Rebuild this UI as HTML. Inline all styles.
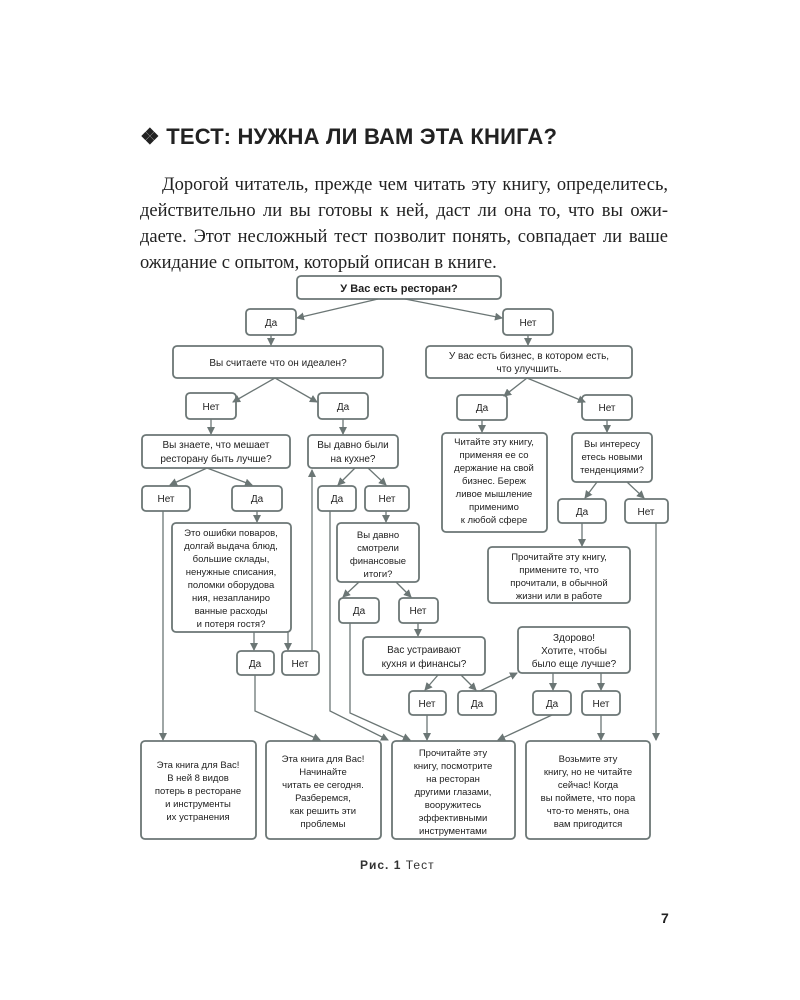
<!DOCTYPE html>
<html><head><meta charset="utf-8"><style>
body{margin:0;background:#fff;width:800px;height:1000px;position:relative;overflow:hidden;font-family:"Liberation Sans",sans-serif}
h1{position:absolute;left:140px;top:124px;margin:0;font-size:22px;font-weight:bold;color:#222;letter-spacing:0.2px}
.p{position:absolute;left:140px;top:172px;width:528px;margin:0;font-family:"Liberation Serif",serif;font-size:18.5px;line-height:26px;color:#222}
.p div{text-align:justify;text-align-last:justify;white-space:nowrap}
.p div.l{text-align-last:left}
svg{position:absolute;left:0;top:0}
.cap{position:absolute;left:360px;top:858px;font-size:12px;font-weight:bold;color:#333;letter-spacing:1px}
.pn{position:absolute;left:661px;top:910px;font-size:14px;font-weight:bold;color:#222}
</style></head><body>
<h1>❖ ТЕСТ: НУЖНА ЛИ ВАМ ЭТА КНИГА?</h1>
<div class="p">
<div style="padding-left:22px">Дорогой читатель, прежде чем читать эту книгу, определитесь,</div>
<div>действительно ли вы готовы к ней, даст ли она то, что вы ожи-</div>
<div>даете. Этот несложный тест позволит понять, совпадает ли ваше</div>
<div class="l">ожидание с опытом, который описан в книге.</div>
</div>
<svg width="800" height="1000" font-family="Liberation Sans, sans-serif" font-size="10" fill="#222">
<defs><marker id="a" markerWidth="8" markerHeight="8" refX="7" refY="4" orient="auto" markerUnits="userSpaceOnUse"><path d="M0,0 L8,4 L0,8 z" fill="#6b7675"/></marker></defs>
<g fill="none" stroke="#6b7675" stroke-width="1.8">
<rect x="297" y="276" width="204" height="23" rx="4"/>
<rect x="246" y="309" width="50" height="26" rx="4"/>
<rect x="503" y="309" width="50" height="26" rx="4"/>
<rect x="173" y="346" width="210" height="32" rx="4"/>
<rect x="426" y="346" width="206" height="32" rx="4"/>
<rect x="186" y="393" width="50" height="26" rx="4"/>
<rect x="318" y="393" width="50" height="26" rx="4"/>
<rect x="457" y="395" width="50" height="25" rx="4"/>
<rect x="582" y="395" width="50" height="25" rx="4"/>
<rect x="142" y="435" width="148" height="33" rx="4"/>
<rect x="308" y="435" width="90" height="33" rx="4"/>
<rect x="442" y="433" width="105" height="99" rx="4"/>
<rect x="572" y="433" width="80" height="49" rx="4"/>
<rect x="142" y="486" width="48" height="25" rx="4"/>
<rect x="232" y="486" width="50" height="25" rx="4"/>
<rect x="318" y="486" width="38" height="25" rx="4"/>
<rect x="365" y="486" width="44" height="25" rx="4"/>
<rect x="558" y="499" width="48" height="24" rx="4"/>
<rect x="625" y="499" width="43" height="24" rx="4"/>
<rect x="172" y="523" width="119" height="109" rx="4"/>
<rect x="337" y="523" width="82" height="59" rx="4"/>
<rect x="488" y="547" width="142" height="56" rx="4"/>
<rect x="339" y="598" width="40" height="25" rx="4"/>
<rect x="399" y="598" width="39" height="25" rx="4"/>
<rect x="363" y="637" width="122" height="38" rx="4"/>
<rect x="518" y="627" width="112" height="46" rx="4"/>
<rect x="237" y="651" width="37" height="24" rx="4"/>
<rect x="282" y="651" width="37" height="24" rx="4"/>
<rect x="409" y="691" width="37" height="24" rx="4"/>
<rect x="458" y="691" width="38" height="24" rx="4"/>
<rect x="533" y="691" width="38" height="24" rx="4"/>
<rect x="582" y="691" width="38" height="24" rx="4"/>
<rect x="141" y="741" width="115" height="98" rx="4"/>
<rect x="266" y="741" width="115" height="98" rx="4"/>
<rect x="392" y="741" width="123" height="98" rx="4"/>
<rect x="526" y="741" width="124" height="98" rx="4"/>
</g>
<g fill="none" stroke="#6b7675" stroke-width="1.3" marker-end="url(#a)">
<line x1="378" y1="299" x2="297" y2="318"/>
<line x1="405" y1="299" x2="502" y2="318"/>
<line x1="271" y1="335" x2="271" y2="345"/>
<line x1="528" y1="335" x2="528" y2="345"/>
<line x1="275" y1="378" x2="233" y2="402"/>
<line x1="275" y1="378" x2="317" y2="402"/>
<line x1="211" y1="419" x2="211" y2="434"/>
<line x1="343" y1="419" x2="343" y2="434"/>
<line x1="527" y1="378" x2="504" y2="396"/>
<line x1="527" y1="378" x2="585" y2="402"/>
<line x1="482" y1="420" x2="482" y2="432"/>
<line x1="607" y1="420" x2="607" y2="432"/>
<line x1="207" y1="468" x2="170" y2="485"/>
<line x1="207" y1="468" x2="252" y2="485"/>
<line x1="355" y1="468" x2="338" y2="485"/>
<line x1="368" y1="468" x2="386" y2="485"/>
<line x1="257" y1="511" x2="257" y2="522"/>
<line x1="386" y1="511" x2="386" y2="522"/>
<line x1="597" y1="482" x2="585" y2="498"/>
<line x1="627" y1="482" x2="644" y2="498"/>
<line x1="582" y1="523" x2="582" y2="546"/>
<line x1="359" y1="582" x2="343" y2="597"/>
<line x1="396" y1="582" x2="411" y2="597"/>
<line x1="418" y1="623" x2="418" y2="636"/>
<line x1="254" y1="632" x2="254" y2="650"/>
<line x1="288" y1="632" x2="288" y2="650"/>
<line x1="438" y1="675" x2="425" y2="690"/>
<line x1="461" y1="675" x2="476" y2="690"/>
<line x1="480" y1="691" x2="517" y2="673"/>
<line x1="553" y1="673" x2="553" y2="690"/>
<line x1="601" y1="673" x2="601" y2="690"/>
<polyline points="163,511 163,740"/>
<polyline points="312,651 312,470"/>
<polyline points="255,675 255,711 320,740"/>
<polyline points="330,511 330,711 388,740"/>
<polyline points="350,623 350,713 410,740"/>
<line x1="427" y1="715" x2="427" y2="740"/>
<line x1="552" y1="715" x2="498" y2="740"/>
<line x1="601" y1="715" x2="601" y2="740"/>
<polyline points="656,523 656,740"/>
</g>
<g text-anchor="middle">
<text x="399" y="292" font-weight="bold" font-size="11">У Вас есть ресторан?</text>
<text x="271" y="326">Да</text><text x="528" y="326">Нет</text>
<text x="278" y="366">Вы считаете что он идеален?</text>
<text x="529" y="359">У вас есть бизнес, в котором есть,</text><text x="529" y="372">что улучшить.</text>
<text x="211" y="410">Нет</text><text x="343" y="410">Да</text>
<text x="482" y="411">Да</text><text x="607" y="411">Нет</text>
<text x="216" y="448">Вы знаете, что мешает</text><text x="216" y="462">ресторану быть лучше?</text>
<text x="353" y="448">Вы давно были</text><text x="353" y="462">на кухне?</text>
<g font-size="9.5"><text x="494" y="445">Читайте эту книгу,</text><text x="494" y="458">применяя ее со</text><text x="494" y="471">держание на свой</text><text x="494" y="484">бизнес. Береж</text><text x="494" y="497">ливое мышление</text><text x="494" y="510">применимо</text><text x="494" y="523">к любой сфере</text>
<text x="612" y="447">Вы интересу</text><text x="612" y="460">етесь новыми</text><text x="612" y="473">тенденциями?</text></g>
<text x="166" y="502">Нет</text><text x="257" y="502">Да</text><text x="337" y="502">Да</text><text x="387" y="502">Нет</text>
<text x="582" y="515">Да</text><text x="646" y="515">Нет</text>
<g font-size="9.5"><text x="231" y="536">Это ошибки поваров,</text><text x="231" y="549">долгай выдача блюд,</text><text x="231" y="562">большие склады,</text><text x="231" y="575">ненужные списания,</text><text x="231" y="588">поломки оборудова</text><text x="231" y="601">ния, незапланиро</text><text x="231" y="614">ванные расходы</text><text x="231" y="627">и потеря гостя?</text>
<text x="378" y="538">Вы давно</text><text x="378" y="551">смотрели</text><text x="378" y="564">финансовые</text><text x="378" y="577">итоги?</text>
<text x="559" y="560">Прочитайте эту книгу,</text><text x="559" y="573">примените то, что</text><text x="559" y="586">прочитали, в обычной</text><text x="559" y="599">жизни или в работе</text></g>
<text x="359" y="614">Да</text><text x="418" y="614">Нет</text>
<text x="424" y="653">Вас устраивают</text><text x="424" y="667">кухня и финансы?</text>
<text x="574" y="641">Здорово!</text><text x="574" y="654">Хотите, чтобы</text><text x="574" y="667">было еще лучше?</text>
<text x="255" y="667">Да</text><text x="300" y="667">Нет</text>
<text x="427" y="707">Нет</text><text x="477" y="707">Да</text><text x="552" y="707">Да</text><text x="601" y="707">Нет</text>
<g font-size="9.5"><text x="198" y="768">Эта книга для Вас!</text><text x="198" y="781">В ней 8 видов</text><text x="198" y="794">потерь в ресторане</text><text x="198" y="807">и инструменты</text><text x="198" y="820">их устранения</text>
<text x="323" y="762">Эта книга для Вас!</text><text x="323" y="775">Начинайте</text><text x="323" y="788">читать ее сегодня.</text><text x="323" y="801">Разберемся,</text><text x="323" y="814">как решить эти</text><text x="323" y="827">проблемы</text>
<text x="453" y="756">Прочитайте эту</text><text x="453" y="769">книгу, посмотрите</text><text x="453" y="782">на ресторан</text><text x="453" y="795">другими глазами,</text><text x="453" y="808">вооружитесь</text><text x="453" y="821">эффективными</text><text x="453" y="834">инструментами</text>
<text x="588" y="762">Возьмите эту</text><text x="588" y="775">книгу, но не читайте</text><text x="588" y="788">сейчас! Когда</text><text x="588" y="801">вы поймете, что пора</text><text x="588" y="814">что-то менять, она</text><text x="588" y="827">вам пригодится</text></g>
</g>
</svg>
<div class="cap">Рис. 1 <span style="font-weight:normal">Тест</span></div>
<div class="pn">7</div>
</body></html>
